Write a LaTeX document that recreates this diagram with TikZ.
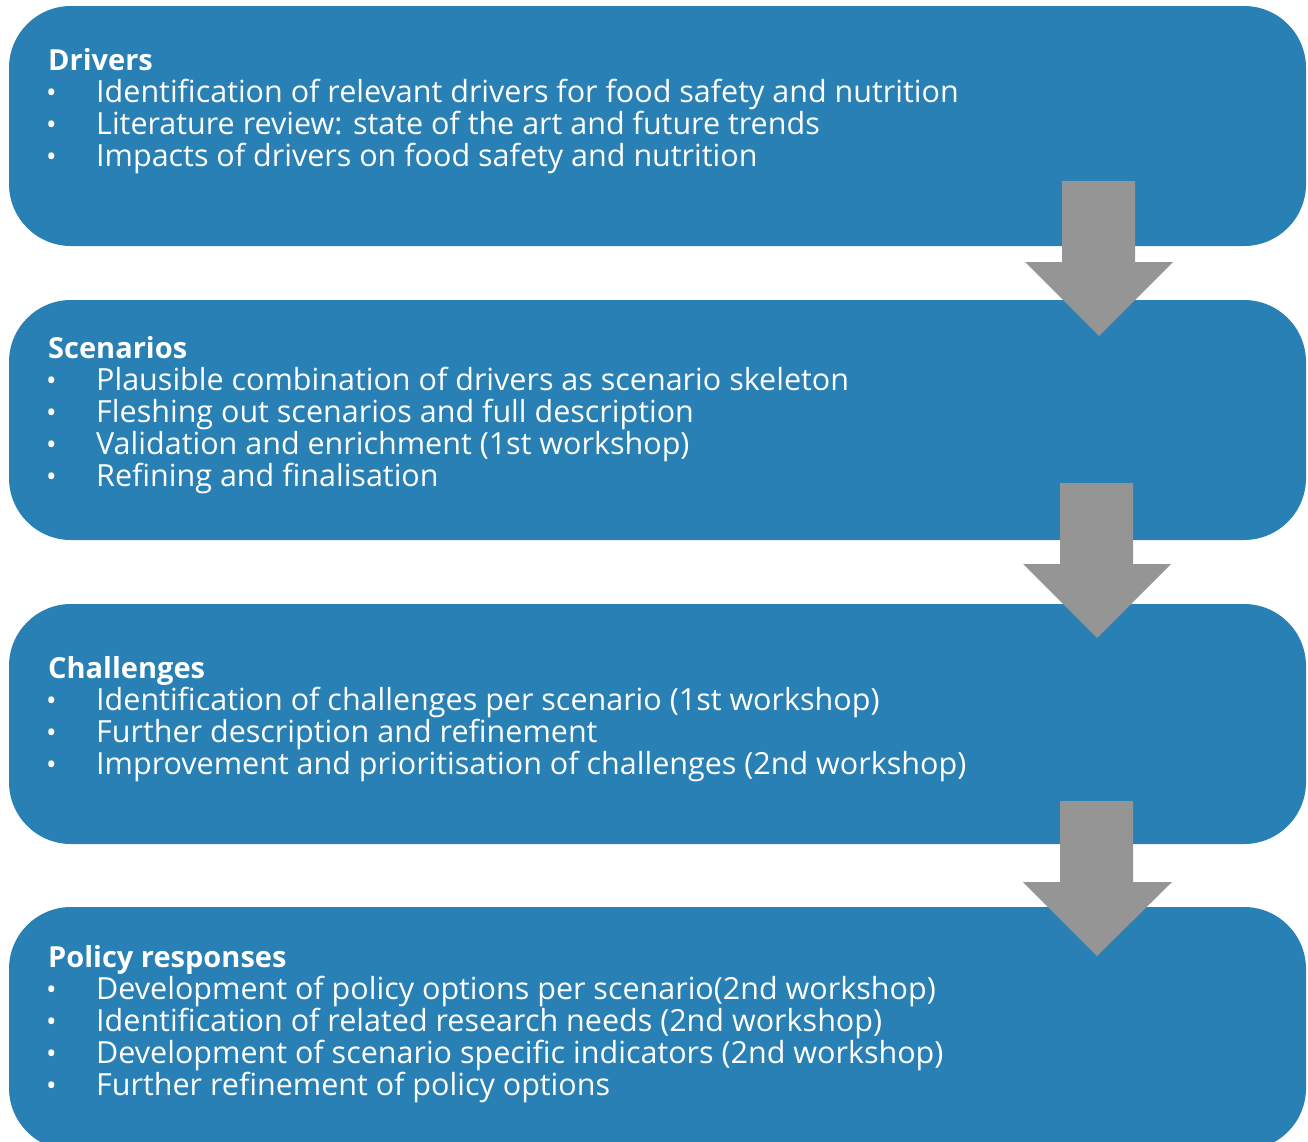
\documentclass[tikz,border=0pt]{standalone}
\usepackage{fontspec}
\setmainfont{Open Sans}
\begin{document}
\begin{tikzpicture}[x=1pt,y=-1pt,
  box/.style={fill=boxblue, draw=none, rounded corners=62pt},
  garrow/.style={fill=arrowgray, draw=none},
  ttl/.style={anchor=base west, inner sep=0pt, text=white, font=\fontsize{29}{32}\selectfont\bfseries},
  itm/.style={anchor=base west, inner sep=0pt, text=white, font=\fontsize{30.5}{32}\selectfont},
  bul/.style={anchor=base west, inner sep=0pt, text=white, font=\fontsize{28}{32}\selectfont}]
\definecolor{boxblue}{HTML}{2880B4}
\definecolor{arrowgray}{HTML}{959595}
\useasboundingbox (0,0) rectangle (1308,1141);
\begin{scope}
\clip (0,0) rectangle (1308,1141);
\path[box] (9,6) rectangle (1306,246);
\path[box] (9,300) rectangle (1306,540);
\path[box] (9,604) rectangle (1306,844);
\path[box] (9,907) rectangle (1306,1150);
\end{scope}
% block arrows
\path[garrow] (1062,181) -- (1135,181) -- (1135,262) -- (1173,262) -- (1099,336) -- (1025,262) -- (1062,262) -- cycle;
\path[garrow] (1060,483) -- (1133,483) -- (1133,564) -- (1171,564) -- (1097,638) -- (1023,564) -- (1060,564) -- cycle;
\path[garrow] (1060,801) -- (1133,801) -- (1133,882) -- (1172,882) -- (1097,956) -- (1023,882) -- (1060,882) -- cycle;
% texts
\node[ttl] (t1) at (48,70) {Drivers};
\foreach \y/\t [count=\i] in {102/Identification of relevant drivers for food safety and nutrition,134/Literature review: state of the art and future trends,166/Impacts of drivers on food safety and nutrition}{
  \node[bul] (b1\i) at (46,\y) {•};
  \node[itm] (i1\i) at (96,\y) {\t};
}
\node[ttl] (t2) at (48,358) {Scenarios};
\foreach \y/\t [count=\i] in {390/Plausible combination of drivers as scenario skeleton,422/Fleshing out scenarios and full description,454/Validation and enrichment (1st workshop),486/Refining and finalisation}{
  \node[bul] (b2\i) at (46,\y) {•};
  \node[itm] (i2\i) at (96,\y) {\t};
}
\node[ttl] (t3) at (48,678) {Challenges};
\foreach \y/\t [count=\i] in {710/Identification of challenges per scenario (1st workshop),742/Further description and refinement,774/Improvement and prioritisation of challenges (2nd workshop)}{
  \node[bul] (b3\i) at (46,\y) {•};
  \node[itm] (i3\i) at (96,\y) {\t};
}
\node[ttl] (t4) at (48,967) {Policy responses};
\foreach \y/\t [count=\i] in {999/Development of policy options per scenario(2nd workshop),1031/Identification of related research needs (2nd workshop),1063/Development of scenario specific indicators (2nd workshop),1095/Further refinement of policy options}{
  \node[bul] (b4\i) at (46,\y) {•};
  \node[itm] (i4\i) at (96,\y) {\t};
}
\end{tikzpicture}
\end{document}
